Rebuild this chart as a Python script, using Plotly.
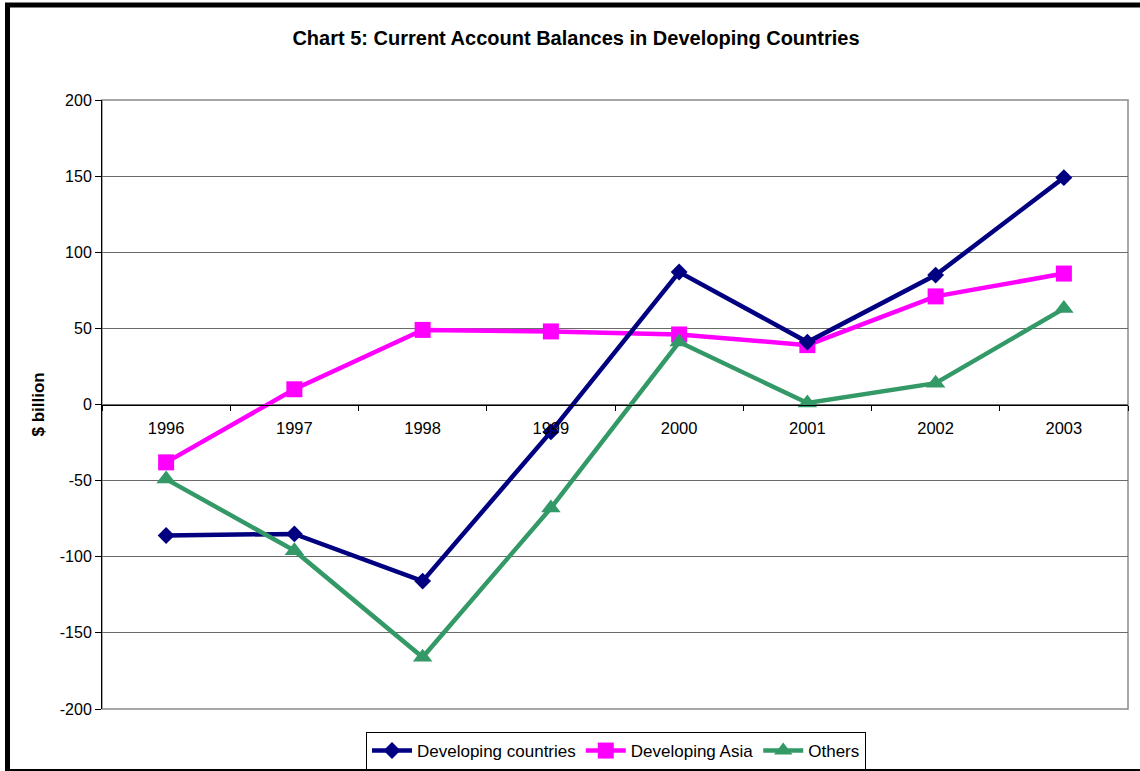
import plotly.graph_objects as go

years = ["1996", "1997", "1998", "1999", "2000", "2001", "2002", "2003"]
developing_countries = [-86, -85, -116, -18, 87, 41, 85, 149]
developing_asia = [-38, 10, 49, 48, 46, 39, 71, 86]
others = [-49, -96, -166, -68, 41, 1, 14, 63]
y_ticks = [-200, -150, -100, -50, 0, 50, 100, 150, 200]
y_tick_text = ["-200", "-150", "-100", "-50", "0", "50", "100", "150", "200"]

W, H = 1140, 771
L, R, T, B = 102, 12, 100, 62
pw = W - L - R
ph = H - T - B

font_family = "Liberation Sans, Arial, sans-serif"

fig = go.Figure()
fig.add_trace(go.Scatter(
    x=years, y=developing_asia, name="Developing Asia", mode="lines+markers",
    line=dict(color="#FF00FF", width=4.5), legendrank=2,
    marker=dict(symbol="square", size=16, color="#FF00FF"),
))
fig.add_trace(go.Scatter(
    x=years, y=developing_countries, name="Developing countries", mode="lines+markers",
    line=dict(color="#000080", width=4.5), legendrank=1,
    marker=dict(symbol="diamond", size=13, color="#000080"),
))
fig.add_trace(go.Scatter(
    x=years, y=others, name="Others", mode="lines+markers",
    line=dict(color="#339966", width=4.5), legendrank=3,
    marker=dict(symbol="triangle-up", size=17, color="#339966"),
))

fig.update_layout(
    width=W, height=H,
    margin=dict(l=L, r=R, t=T, b=B, autoexpand=False),
    paper_bgcolor="white", plot_bgcolor="white",
    font=dict(family=font_family, size=16, color="black"),
    title=dict(
        text="<b>Chart 5: Current Account Balances in Developing Countries</b>",
        x=576 / W, xanchor="center", xref="container",
        y=1 - 38 / H, yanchor="middle", yref="container",
        font=dict(size=20, family=font_family, color="black"),
    ),
    showlegend=True,
    legend=dict(
        orientation="h", x=(616 - L) / pw, xanchor="center",
        y=(-(751 - (T + ph))) / ph, yanchor="middle",
        bordercolor="black", borderwidth=1, bgcolor="white",
        font=dict(size=17, family=font_family),
        itemwidth=40,
    ),
    xaxis=dict(
        type="category", range=[-0.5, 7.5],
        anchor="free", position=0.5,
        showline=True, linecolor="black", linewidth=1,
        ticks="outside", tickson="boundaries", ticklen=5, tickcolor="black",
        showgrid=False, tickfont=dict(size=16.5),
        ticklabelstandoff=9,
    ),
    yaxis=dict(
        range=[-200, 200], tickvals=y_ticks, ticktext=y_tick_text,
        showline=True, linecolor="black", linewidth=1,
        ticks="outside", ticklen=6, tickcolor="black",
        showgrid=True, gridcolor="#6a6a6a", gridwidth=1,
        zeroline=False, tickfont=dict(size=16),
    ),
    annotations=[dict(
        text="<b>$ billion</b>", textangle=-90,
        xref="paper", yref="paper",
        x=(38 - L) / pw, y=0.5, xanchor="center", yanchor="middle",
        showarrow=False, font=dict(size=17, family=font_family),
    )],
    shapes=[
        # plot area frame
        dict(type="rect", xref="paper", yref="paper", x0=0, x1=1, y0=0, y1=1,
             line=dict(color="#8a8a8a", width=1.5), layer="below"),
        # outer chart border
        dict(type="rect", xref="paper", yref="paper",
             x0=(7.5 - L) / pw, x1=(W + 5 - L) / pw,
             y0=-(H + 0.5 - (T + ph)) / ph, y1=1 + (T - 5) / ph,
             line=dict(color="black", width=5)),
    ],
)

fig.write_html("out.html")
